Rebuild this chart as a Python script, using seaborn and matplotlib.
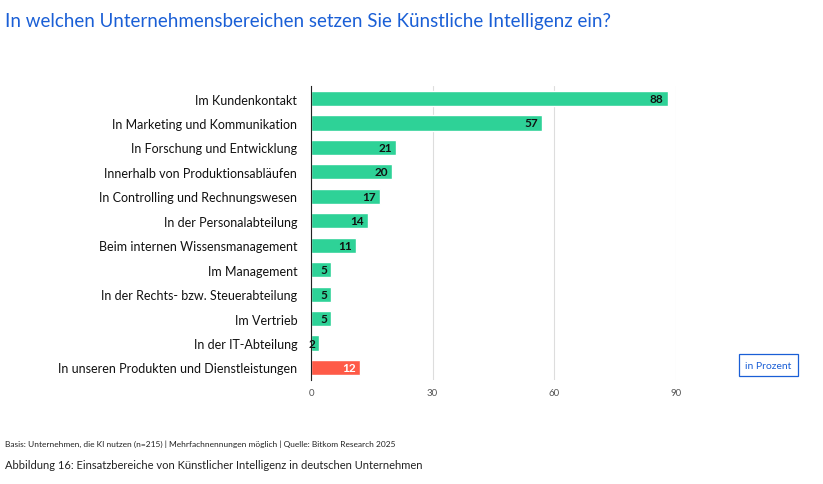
import matplotlib
matplotlib.use("Agg")
import matplotlib.pyplot as plt
import seaborn as sns
import pandas as pd

categories = ["Im Kundenkontakt", "In Marketing und Kommunikation", "In Forschung und Entwicklung",
              "Innerhalb von Produktionsabläufen", "In Controlling und Rechnungswesen",
              "In der Personalabteilung", "Beim internen Wissensmanagement", "Im Management",
              "In der Rechts- bzw. Steuerabteilung", "Im Vertrieb", "In der IT-Abteilung",
              "In unseren Produkten und Dienstleistungen"]
values = [88, 57, 21, 20, 17, 14, 11, 5, 5, 5, 2, 12]
colors = ["#2ed297"] * 11 + ["#fe5a47"]
xticks = [0, 30, 60, 90]

sns.set_style("white")
plt.rcParams['font.family'] = ['Lato', 'DejaVu Sans']
df = pd.DataFrame({"cat": categories, "val": values})
fig = plt.figure(figsize=(8.23, 4.85), dpi=100)
ax = fig.add_axes([0.378, 0.215, 0.443, 0.605])
sns.barplot(data=df, x="val", y="cat", hue="cat", palette=colors, legend=False, ax=ax, width=0.62, saturation=1)
ax.set_xlim(0, 90)
ax.set_xticks(xticks)
ax.set_xticklabels([str(t) for t in xticks], fontsize=7, color="#555555")
ax.tick_params(axis="x", length=0, pad=6)
ax.tick_params(axis="y", length=0, labelsize=9, pad=10, colors="#111111")
ax.grid(axis="x", color="#dddddd", lw=0.8)
ax.set_axisbelow(True)
for s in ["top", "right", "bottom"]:
    ax.spines[s].set_visible(False)
ax.spines["left"].set_color("#222222")
ax.set_xlabel(""); ax.set_ylabel("")
for i, v in enumerate(values):
    c = "white" if i == len(values) - 1 else "#111111"
    ax.text(v - 1, i, str(v), ha="right", va="center", fontsize=8.5, fontweight="bold", color=c)
fig.text(0.006, 0.955, "In welchen Unternehmensbereichen setzen Sie Künstliche Intelligenz ein?",
         fontsize=13.5, color="#1a5fd6", va="center")
fig.text(0.934, 0.245, "in Prozent", fontsize=7.5, color="#1a5fd6", ha="center", va="center",
         bbox=dict(boxstyle="square,pad=0.6", fc="white", ec="#1a5fd6", lw=0.9))
fig.text(0.006, 0.085, "Basis: Unternehmen, die KI nutzen (n=215) | Mehrfachnennungen möglich | Quelle: Bitkom Research 2025",
         fontsize=6, color="#222222", va="center")
fig.text(0.006, 0.04, "Abbildung 16: Einsatzbereiche von Künstlicher Intelligenz in deutschen Unternehmen",
         fontsize=8, color="#222222", va="center")
fig.savefig("out.png", dpi=100)
